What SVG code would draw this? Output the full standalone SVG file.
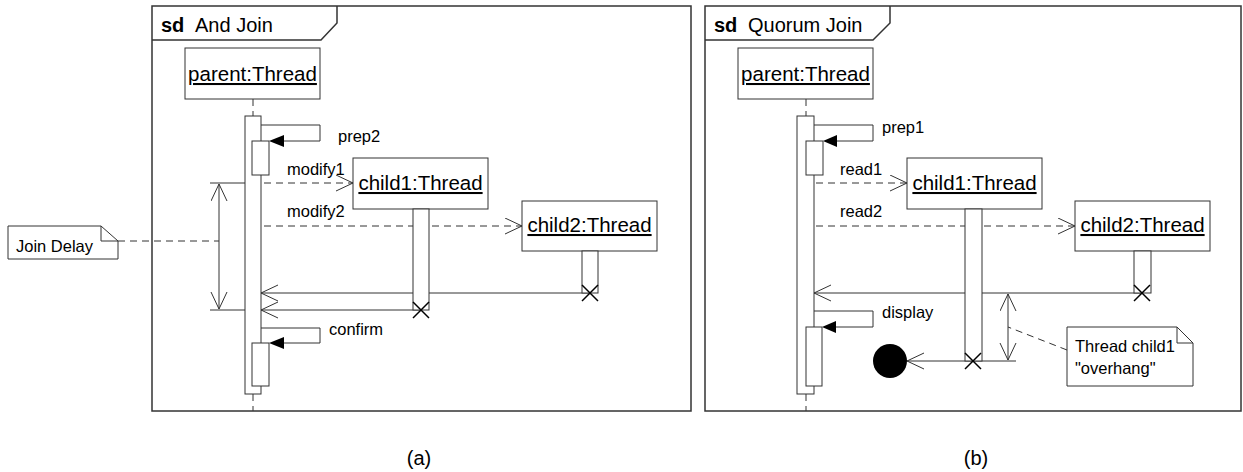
<svg xmlns="http://www.w3.org/2000/svg" width="1243" height="472" viewBox="0 0 1243 472">
  <defs>
    <marker id="open" viewBox="0 0 18 18" markerUnits="userSpaceOnUse" markerWidth="18" markerHeight="18" refX="17" refY="8.5" orient="auto-start-reverse">
      <path d="M0,0.5 L17,8.5 L0,16.5" fill="none" stroke="#333" stroke-width="1"/>
    </marker>
    <style>
      .frame { fill: none; stroke: #333; stroke-width: 1.5; }
      .box { fill: #fff; stroke: #333; stroke-width: 1; }
      .line { fill: none; stroke: #333; stroke-width: 1; }
      .dash { fill: none; stroke: #333; stroke-width: 1; stroke-dasharray: 7 5; }
      .msg { fill: none; stroke: #333; stroke-width: 1; marker-end: url(#open); }
      .dmsg { fill: none; stroke: #333; stroke-width: 1; stroke-dasharray: 7 5; marker-end: url(#open); }
      .dim { fill: none; stroke: #333; stroke-width: 1; marker-start: url(#open); marker-end: url(#open); }
      .head { fill: #000; }
      .x { fill: none; stroke: #000; stroke-width: 1.5; }
      text { font-family: "Liberation Sans", Arial, sans-serif; fill: #000; }
      .name { font-size: 20.5px; text-decoration: underline; text-anchor: middle; }
      .title { font-size: 20px; }
      .bold { font-weight: bold; }
      .lbl { font-size: 16.5px; }
      .cap { font-size: 20px; text-anchor: middle; }
    </style>
  </defs>

  <!-- (a) And Join -->
  <g id="frame-a">
    <rect class="frame" x="152" y="6" width="539" height="405"/>
    <path class="frame" d="M152,40 H321 L337,23 V6"/>
    <text class="title" x="161" y="32"><tspan class="bold">sd</tspan></text>
    <text class="title" x="195" y="32">And Join</text>
  </g>

  <g id="connectors-a">
    <line class="dash" x1="253" y1="99" x2="253" y2="116"/>
    <line class="dash" x1="253" y1="394" x2="253" y2="411"/>
    <!-- prep2 self call -->
    <path class="line" d="M261,125 H320 V141 H284"/>
    <polygon class="head" points="269,141 284,135 284,147"/>
    <!-- async calls -->
    <line class="dmsg" x1="264" y1="183" x2="353" y2="183"/>
    <line class="dmsg" x1="264" y1="226" x2="522" y2="226"/>
    <!-- returns -->
    <line class="msg" x1="590" y1="293" x2="261" y2="293"/>
    <line class="msg" x1="421" y1="310" x2="261" y2="310"/>
    <!-- confirm self call -->
    <path class="line" d="M261,328 H320 V343 H284"/>
    <polygon class="head" points="269,343 284,337 284,349"/>
    <!-- join delay dimension -->
    <line class="line" x1="210" y1="183" x2="245" y2="183"/>
    <line class="line" x1="210" y1="310" x2="245" y2="310"/>
    <line class="dim" x1="219" y1="184" x2="219" y2="309"/>
    <line class="dash" x1="118" y1="241" x2="219" y2="241"/>
  </g>

  <g id="parent-a">
    <rect class="box" x="185" y="48" width="135" height="51"/>
    <text class="name" x="252.5" y="81">parent:Thread</text>
    <rect class="box" x="245" y="116" width="16" height="278"/>
    <rect class="box" x="252" y="141" width="17" height="34"/>
    <rect class="box" x="252" y="343" width="17" height="43"/>
  </g>

  <g id="child1-a">
    <rect class="box" x="353" y="158" width="135" height="51"/>
    <text class="name" x="420.5" y="190">child1:Thread</text>
    <rect class="box" x="413" y="209" width="16" height="101"/>
    <path class="x" d="M413,302 L429,318 M429,302 L413,318"/>
  </g>

  <g id="child2-a">
    <rect class="box" x="522" y="201" width="135" height="50"/>
    <text class="name" x="589.5" y="232">child2:Thread</text>
    <rect class="box" x="582" y="251" width="16" height="42"/>
    <path class="x" d="M582,285 L598,301 M598,285 L582,301"/>
  </g>

  <g id="labels-a">
    <text class="lbl" x="338" y="142">prep2</text>
    <text class="lbl" x="287" y="175">modify1</text>
    <text class="lbl" x="287" y="217">modify2</text>
    <text class="lbl" x="329" y="335">confirm</text>
  </g>

  <g id="note-join-delay">
    <path class="box" d="M8,226 H101 L118,241 V259 H8 Z"/>
    <path class="line" d="M101,226 V241 H118"/>
    <text class="lbl" x="16" y="252">Join Delay</text>
  </g>

  <!-- (b) Quorum Join -->
  <g id="frame-b">
    <rect class="frame" x="705" y="6" width="536" height="405"/>
    <path class="frame" d="M705,40 H873 L890,23 V6"/>
    <text class="title" x="714" y="32"><tspan class="bold">sd</tspan></text>
    <text class="title" x="748" y="32">Quorum Join</text>
  </g>

  <g id="connectors-b">
    <line class="dash" x1="806" y1="99" x2="806" y2="116"/>
    <line class="dash" x1="806" y1="394" x2="806" y2="411"/>
    <!-- prep1 self call -->
    <path class="line" d="M814,125 H873 V141 H837"/>
    <polygon class="head" points="823,141 837,135 837,147"/>
    <!-- async calls -->
    <line class="dmsg" x1="816" y1="183" x2="907" y2="183"/>
    <line class="dmsg" x1="816" y1="226" x2="1075" y2="226"/>
    <!-- return from child2 -->
    <line class="msg" x1="1142" y1="293" x2="814" y2="293"/>
    <!-- display self call -->
    <path class="line" d="M814,311 H873 V327 H836"/>
    <polygon class="head" points="822,327 836,321 836,333"/>
    <!-- child1 ends into final state -->
    <line class="msg" x1="1016" y1="361" x2="907" y2="361"/>
    <!-- overhang dimension -->
    <line class="dim" x1="1008" y1="294" x2="1008" y2="360"/>
    <line class="dash" x1="1067" y1="350" x2="1008" y2="327"/>
  </g>

  <g id="parent-b">
    <rect class="box" x="738" y="48" width="135" height="51"/>
    <text class="name" x="805.5" y="81">parent:Thread</text>
    <rect class="box" x="797" y="116" width="17" height="278"/>
    <rect class="box" x="806" y="141" width="17" height="34"/>
    <rect class="box" x="806" y="327" width="16" height="59"/>
  </g>

  <g id="child1-b">
    <rect class="box" x="907" y="158" width="135" height="51"/>
    <text class="name" x="974.5" y="190">child1:Thread</text>
    <rect class="box" x="965" y="209" width="17" height="152"/>
    <path class="x" d="M965,353 L981,369 M981,353 L965,369"/>
  </g>

  <g id="child2-b">
    <rect class="box" x="1075" y="201" width="135" height="50"/>
    <text class="name" x="1142.5" y="232">child2:Thread</text>
    <rect class="box" x="1134" y="251" width="17" height="42"/>
    <path class="x" d="M1134,285 L1150,301 M1150,285 L1134,301"/>
  </g>

  <g id="final-b">
    <circle cx="890" cy="361" r="17" fill="#000"/>
  </g>

  <g id="labels-b">
    <text class="lbl" x="882" y="133">prep1</text>
    <text class="lbl" x="840" y="175">read1</text>
    <text class="lbl" x="840" y="217">read2</text>
    <text class="lbl" x="882" y="318">display</text>
  </g>

  <g id="note-overhang">
    <path class="box" d="M1067,327 H1177 L1193,343 V386 H1067 Z"/>
    <path class="line" d="M1177,327 V343 H1193"/>
    <text class="lbl" x="1075" y="352">Thread child1</text>
    <text class="lbl" x="1075" y="374">"overhang"</text>
  </g>

  <g id="captions">
    <text class="cap" x="419" y="465">(a)</text>
    <text class="cap" x="976" y="465">(b)</text>
  </g>
</svg>
